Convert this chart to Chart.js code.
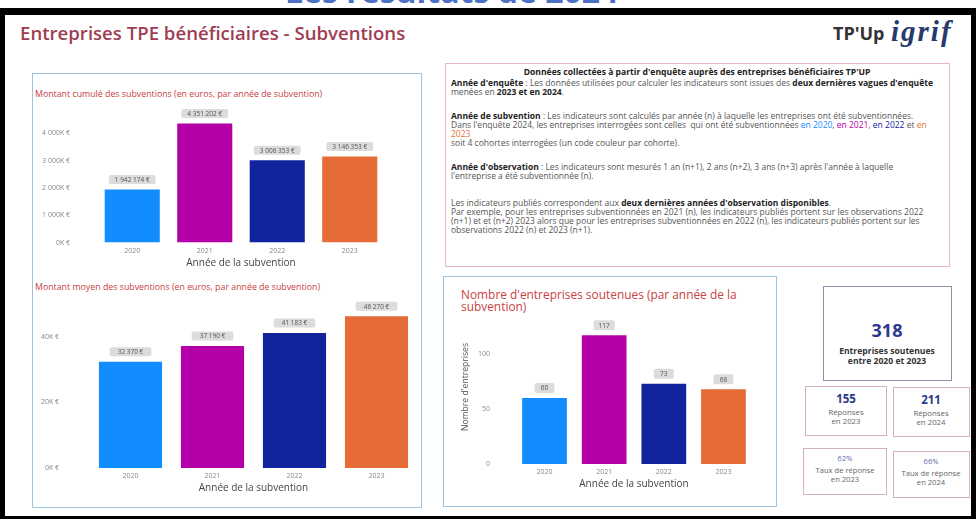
<!DOCTYPE html>
<html lang="fr"><head><meta charset="utf-8">
<script src="https://cdn.jsdelivr.net/npm/chart.js@4.4.1/dist/chart.umd.min.js"></script>
<style>
body{margin:0;width:976px;height:519px;overflow:hidden;background:#fff;font-family:"Open Sans",sans-serif;position:relative}
.abs{position:absolute;white-space:nowrap}
.box{position:absolute;box-sizing:border-box}
.tl{position:absolute;white-space:nowrap;font-size:8.5px;line-height:9px;color:#555;left:451px}
.tl b{color:#222}
.c{position:absolute;white-space:nowrap;text-align:center;transform:translate(-50%,-50%)}
canvas{position:absolute}
</style></head><body>
<div class="abs" style="left:285px;top:-27px;font-size:32px;font-weight:700;color:#4a6fc4;line-height:36px">Les résultats de 2024</div>
<div class="box" style="left:0;top:8px;width:976px;height:511px;border-style:solid;border-color:#000;border-width:7px 5px 3px 5px"></div>

<div class="abs" style="left:20px;top:21px;font-size:18.6px;line-height:24px;font-weight:600;color:#9e3d52">Entreprises TPE bénéficiaires - Subventions</div>
<div class="abs" style="left:833px;top:21px;font-size:18px;line-height:24px;font-weight:700;color:#333">TP'Up</div>
<div class="abs" style="left:891px;top:15px;font-size:29px;line-height:32px;font-weight:700;font-style:italic;letter-spacing:2px;color:#263a6e;font-family:'Liberation Serif',serif">igrif</div>

<!-- left panel -->
<div class="box" style="left:32px;top:73px;width:390px;height:435px;border:1.5px solid #9ec5df"></div>
<div class="abs" style="left:35px;top:88px;font-size:8.8px;line-height:12px;color:#c8413f">Montant cumulé des subventions (en euros, par année de subvention)</div>
<div class="abs" style="left:35px;top:281px;font-size:8.8px;line-height:12px;color:#c8413f">Montant moyen des subventions (en euros, par année de subvention)</div>
<canvas id="cCumul" width="388" height="169" style="left:32px;top:100px;width:388px;height:169px"></canvas>
<canvas id="cAvg" width="388" height="198" style="left:32px;top:296px;width:388px;height:198px"></canvas>

<!-- text panel -->
<div class="box" style="left:445px;top:63px;width:505px;height:204px;border:1px solid #e7b9bf"></div>
<div class="tl" style="left:0;width:1394px;text-align:center;top:68px;color:#222;font-weight:700;font-size:8.6px">Données collectées à partir d'enquête auprès des entreprises bénéficiaires TP'UP</div>
<div class="tl" style="top:78px"><b>Année d'enquête</b> : Les données utilisées pour calculer les indicateurs sont issues des <b>deux dernières vagues d'enquête</b></div>
<div class="tl" style="top:87px">menées en <b>2023 et en 2024</b>.</div>
<div class="tl" style="top:111px"><b>Année de subvention</b> : Les indicateurs sont calculés par année (n) à laquelle les entreprises ont été subventionnées.</div>
<div class="tl" style="top:120px">Dans l'enquête 2024, les entreprises interrogées sont celles&nbsp; qui ont été subventionnées <span style="color:#118DFF">en 2020</span>, <span style="color:#B400A8">en 2021</span>, <span style="color:#12239E">en 2022</span> et <span style="color:#E66C37">en</span></div>
<div class="tl" style="top:129px;color:#E66C37">2023</div>
<div class="tl" style="top:138px">soit 4 cohortes interrogées (un code couleur par cohorte).</div>
<div class="tl" style="top:162px"><b>Année d'observation</b> : Les indicateurs sont mesurés 1 an (n+1), 2 ans (n+2), 3 ans (n+3) après l'année à laquelle</div>
<div class="tl" style="top:171px">l'entreprise a été subventionnée (n).</div>
<div class="tl" style="top:198px">Les indicateurs publiés correspondent aux <b>deux dernières années d'observation disponibles</b>.</div>
<div class="tl" style="top:207px">Par exemple, pour les entreprises subventionnées en 2021 (n), les indicateurs publiés portent sur les observations 2022</div>
<div class="tl" style="top:216px">(n+1) et et (n+2) 2023 alors que pour les entreprises subventionnées en 2022 (n), les indicateurs publiés portent sur les</div>
<div class="tl" style="top:225px">observations 2022 (n) et 2023 (n+1).</div>

<!-- count panel -->
<div class="box" style="left:443px;top:276px;width:334px;height:231px;border:1.5px solid #9ec5df"></div>
<div class="abs" style="left:461px;top:288px;font-size:11.9px;line-height:12px;color:#c8413f">Nombre d'entreprises soutenues (par année de la<br>subvention)</div>
<canvas id="cCount" width="320" height="185" style="left:448px;top:305px;width:320px;height:185px"></canvas>

<!-- KPI -->
<div class="box" style="left:823px;top:286px;width:129px;height:95px;border:1px solid #8a90a8"></div>
<div class="c" style="left:887px;top:330px;font-size:18px;font-weight:700;color:#2b3a8c">318</div>
<div class="c" style="left:887px;top:351px;font-size:8.6px;font-weight:700;color:#333">Entreprises soutenues</div>
<div class="c" style="left:887px;top:361px;font-size:8.6px;font-weight:700;color:#333">entre 2020 et 2023</div>

<div class="box" style="left:805px;top:386px;width:82px;height:50px;border:1px solid #d9b3b3"></div>
<div class="c" style="left:846px;top:398px;font-size:11.5px;font-weight:700;color:#2b3a8c">155</div>
<div class="c" style="left:846px;top:412px;font-size:7.8px;color:#666">Réponses</div>
<div class="c" style="left:846px;top:421px;font-size:7.8px;color:#666">en 2023</div>

<div class="box" style="left:893px;top:387px;width:77px;height:50px;border:1px solid #d9b3b3"></div>
<div class="c" style="left:931px;top:399px;font-size:11.5px;font-weight:700;color:#2b3a8c">211</div>
<div class="c" style="left:931px;top:413px;font-size:7.8px;color:#666">Réponses</div>
<div class="c" style="left:931px;top:422px;font-size:7.8px;color:#666">en 2024</div>

<div class="box" style="left:803px;top:448px;width:84px;height:47px;border:1px solid #d9b3b3"></div>
<div class="c" style="left:845px;top:458px;font-size:7.5px;color:#5a6aa8">62%</div>
<div class="c" style="left:845px;top:470px;font-size:7.6px;color:#666">Taux de réponse</div>
<div class="c" style="left:845px;top:479px;font-size:7.6px;color:#666">en 2023</div>

<div class="box" style="left:893px;top:451px;width:77px;height:47px;border:1px solid #d9b3b3"></div>
<div class="c" style="left:931px;top:461px;font-size:7.5px;color:#5a6aa8">66%</div>
<div class="c" style="left:931px;top:473px;font-size:7.6px;color:#666">Taux de réponse</div>
<div class="c" style="left:931px;top:482px;font-size:7.6px;color:#666">en 2024</div>

<script>
const years = ['2020', '2021', '2022', '2023'];
const barColors = ['#118DFF', '#B400A8', '#12239E', '#E66C37'];
const cumulAmounts = [1942174, 4351202, 3006353, 3146353];
const avgAmounts = [32370, 37190, 41183, 46270];
const companyCounts = [60, 117, 73, 68];
const cumulTickValues = [0, 1000000, 2000000, 3000000, 4000000];
const avgTickValues = [0, 20000, 40000];
const countTickValues = [0, 50, 100];
const xAxisTitle = 'Année de la subvention';
const countAxisTitle = "Nombre d'entreprises";

function spaced(n){ return String(Math.round(n)).replace(/\B(?=(\d{3})+(?!\d))/g, ' '); }
const fmtEuro = v => spaced(v) + ' €';
const fmtK = v => spaced(v/1000) + 'K €';

const valueLabels = {
  id: 'valueLabels',
  afterDatasetsDraw(chart, args, opts) {
    const ctx = chart.ctx;
    const meta = chart.getDatasetMeta(0);
    const data = chart.data.datasets[0].data;
    ctx.save();
    ctx.font = opts.font;
    meta.data.forEach((bar, i) => {
      const txt = opts.format(data[i]);
      const w = Math.max(ctx.measureText(txt).width + opts.padX * 2, opts.minW || 0);
      const h = opts.h;
      const cx = bar.x, cy = bar.y - opts.gap - h / 2;
      ctx.fillStyle = '#dcdcdc';
      ctx.beginPath();
      ctx.roundRect(cx - w / 2, cy - h / 2, w, h, 2);
      ctx.fill();
      ctx.fillStyle = '#555';
      ctx.textAlign = 'center';
      ctx.textBaseline = 'middle';
      ctx.fillText(txt, cx, cy + 0.5);
    });
    ctx.restore();
  }
};

function makeChart(id, values, o) {
  return new Chart(document.getElementById(id), {
    type: 'bar',
    data: { labels: years, datasets: [{ data: values, backgroundColor: barColors, borderWidth: 0,
      barPercentage: o.barPct, categoryPercentage: 1 }] },
    options: {
      responsive: false, animation: false,
      layout: { padding: o.pad, autoPadding: false },
      plugins: { legend: { display: false }, tooltip: { enabled: false },
        valueLabels: { font: o.lblFont, format: o.lblFmt, padX: o.lblPadX, h: o.lblH, gap: o.lblGap, minW: o.lblMinW } },
      scales: {
        x: {
          grid: { display: false, drawTicks: false }, border: { display: false },
          ticks: { padding: o.xPad, color: '#888', font: { family: 'Open Sans', size: o.tickSize } },
          title: { display: true, text: xAxisTitle, color: '#444', padding: 0,
            font: { family: 'Open Sans', size: o.xTitleSize, lineHeight: 1.2 } },
          afterFit(s) { s.height = o.xH; s.paddingLeft = 0; s.paddingRight = 0; }
        },
        y: {
          min: 0, max: o.max,
          grid: { display: false, drawTicks: false }, border: { display: false },
          afterBuildTicks(s) { s.ticks = o.tickValues.map(v => ({ value: v })); },
          ticks: { padding: o.yPad, color: '#888', font: { family: 'Open Sans', size: o.tickSize },
            callback: v => o.tickFmt(v) },
          title: o.yTitle ? { display: true, text: o.yTitle, color: '#555', padding: { top: o.yTitlePad },
            font: { family: 'Open Sans', size: 8.6, lineHeight: 1.2 } } : { display: false },
          afterFit(s) { s.width = o.yW; s.paddingTop = 0; s.paddingBottom = 0; }
        }
      }
    },
    plugins: [valueLabels]
  });
}

makeChart('cCumul', cumulAmounts, {
  barPct: 0.76, pad: { top: 5.8, right: 34, left: 0, bottom: 0 },
  xH: 26.4, yW: 64, yPad: 26, xPad: 4, max: 5000000, tickValues: cumulTickValues,
  tickFmt: fmtK, tickSize: 7, xTitleSize: 10,
  lblFont: '6.5px "Open Sans"', lblFmt: fmtEuro, lblPadX: 6, lblH: 9, lblGap: 5.5
});
makeChart('cAvg', avgAmounts, {
  barPct: 0.77, pad: { top: 8, right: 2.5, left: 0, bottom: 0 },
  xH: 26, yW: 57.5, yPad: 30.5, xPad: 4, max: 50000, tickValues: avgTickValues,
  tickFmt: fmtK, tickSize: 7, xTitleSize: 10,
  lblFont: '6.5px "Open Sans"', lblFmt: fmtEuro, lblPadX: 8, lblH: 9, lblGap: 5.5
});
makeChart('cCount', companyCounts, {
  barPct: 0.75, pad: { top: 5, right: 14.7, left: 0, bottom: 0 },
  xH: 26, yW: 66.7, yPad: 24.7, xPad: 4, max: 140, tickValues: countTickValues,
  tickFmt: v => String(v), tickSize: 7, xTitleSize: 10,
  yTitle: countAxisTitle, yTitlePad: 12.2,
  lblFont: '6.5px "Open Sans"', lblFmt: v => String(v), lblPadX: 5, lblH: 10, lblGap: 5, lblMinW: 20
});
</script>
</body></html>
